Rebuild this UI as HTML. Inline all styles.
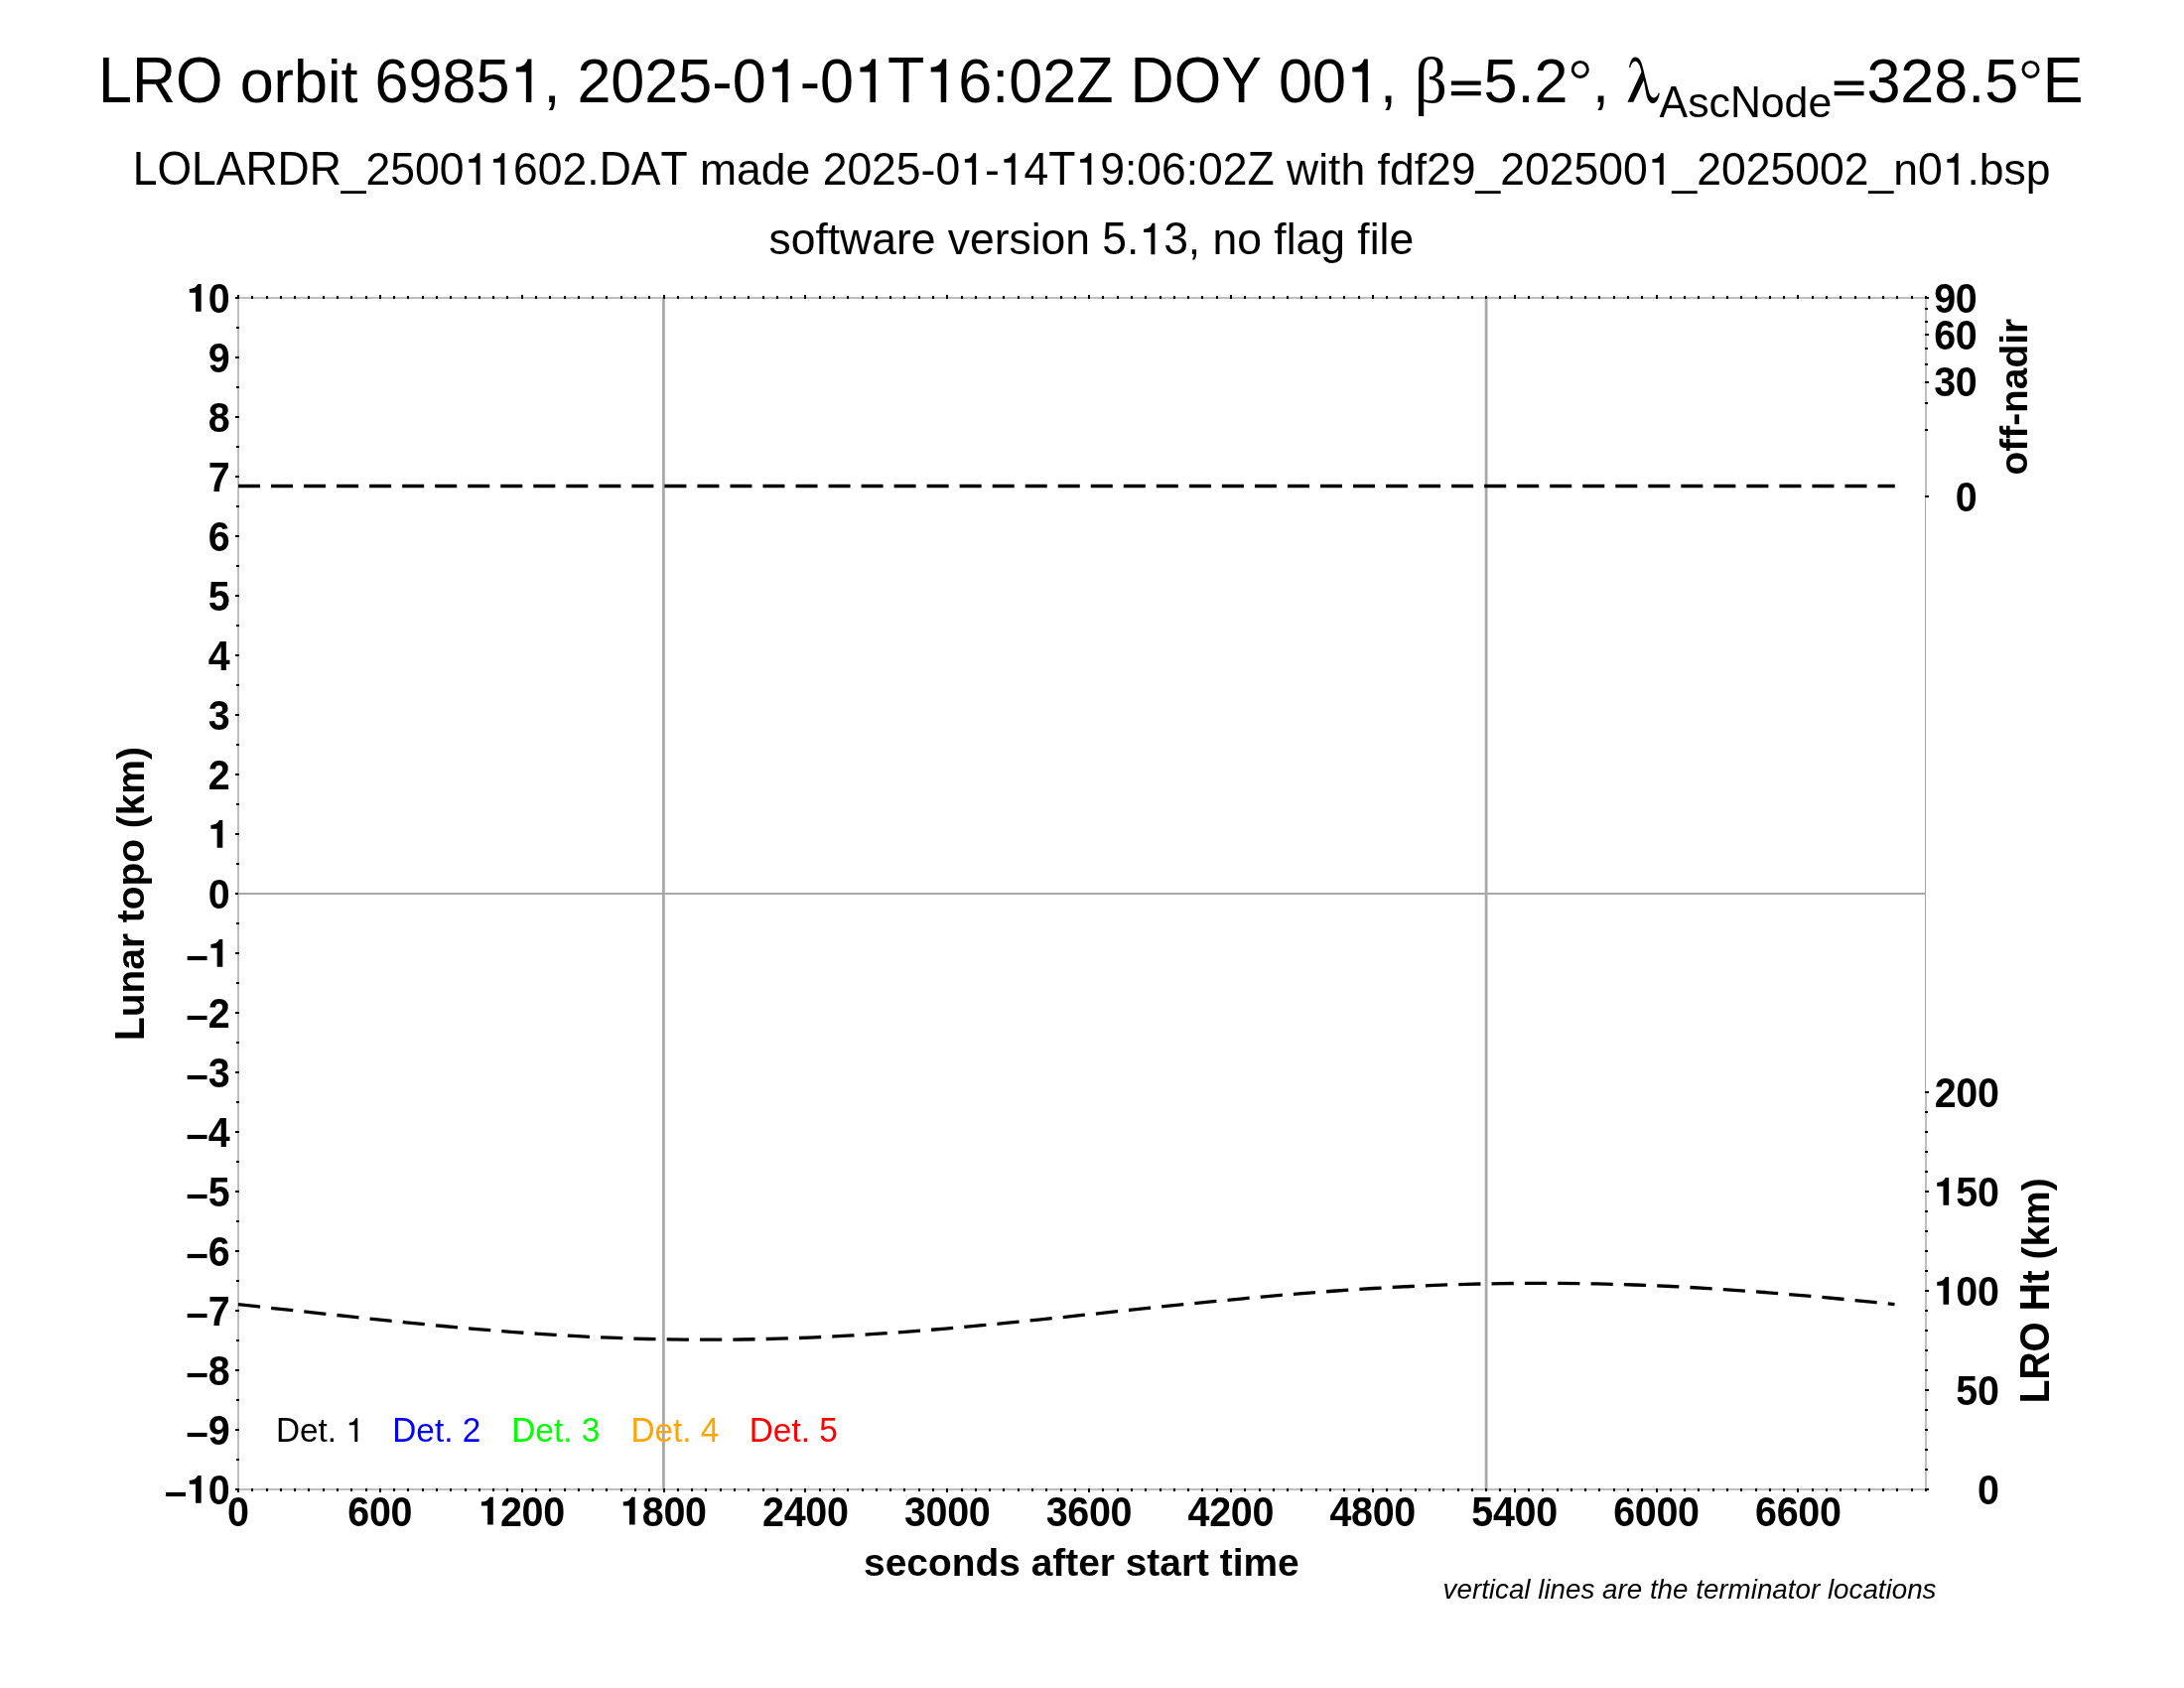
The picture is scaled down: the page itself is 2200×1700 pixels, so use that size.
<!DOCTYPE html>
<html><head><meta charset="utf-8"><title>LRO orbit 69851</title>
<style>html,body{margin:0;padding:0;background:#fff}svg{display:block;will-change:transform}text{font-family:"Liberation Sans",sans-serif;font-kerning:none}.b{font-weight:bold;font-size:38.89px}.g{font-family:"Liberation Serif",serif}</style>
</head><body>
<svg width="2200" height="1700" viewBox="0 0 2200 1700">
<defs>
<path id="o1" d="M.359 0H.269V-.5025H.105V-.577C.21-.581 .265-.618 .296-.712H.359Z"/>
<path id="b1" d="M.3685 0H.2234V-.489H.0625V-.588C.167-.593 .239-.629 .28-.715H.3685Z"/>
<path id="e1" d="M.049-.113H.5367V-.183H.049ZM.049-.283H.5367V-.353H.049Z"/>
<circle id="d1" cx=".2" cy="-.5425" r=".124" fill="none" stroke="#000" stroke-width=".048"/>
</defs>
<rect width="2200" height="1700" fill="#fff"/>
<g font-size="61.11">
<g transform="translate(99.00,103.10)"><text transform="translate(0.00,0) scale(1,1.05)">LRO</text><text transform="translate(142.63,0)">orbit</text><text transform="translate(278.49,0) scale(1,1.03)">6985</text><use href="#o1" transform="translate(414.43,0) scale(61.11)"/><text transform="translate(448.42,0)">,</text><text transform="translate(482.38,0) scale(1,1.03)">2025</text><text transform="translate(618.32,0)">-</text><text transform="translate(638.67,0) scale(1,1.03)">0</text><use href="#o1" transform="translate(672.66,0) scale(61.11)"/><text transform="translate(706.64,0)">-</text><text transform="translate(726.99,0) scale(1,1.03)">0</text><use href="#o1" transform="translate(760.98,0) scale(61.11)"/><text transform="translate(794.97,0) scale(1,1.05)">T</text><use href="#o1" transform="translate(832.30,0) scale(61.11)"/><text transform="translate(866.28,0) scale(1,1.03)">6</text><text transform="translate(900.27,0)">:</text><text transform="translate(917.25,0) scale(1,1.03)">02</text><text transform="translate(985.22,0) scale(1,1.05)">Z DOY</text><text transform="translate(1188.93,0) scale(1,1.03)">00</text><use href="#o1" transform="translate(1256.90,0) scale(61.11)"/><text transform="translate(1290.89,0)">,</text></g>
<text transform="translate(1424.80,103.10)" class="g" font-size="65">β</text>
<g transform="translate(1458.90,103.10)"><use href="#e1" transform="translate(0.00,0) scale(61.11)"/><text transform="translate(35.69,0) scale(1,1.03)">5</text><text transform="translate(69.67,0)">.</text><text transform="translate(86.65,0) scale(1,1.03)">2</text><use href="#d1" transform="translate(120.64,0) scale(61.11)"/><text transform="translate(145.08,0)">,</text></g>
<path transform="translate(1625,45) scale(0.047393)" d="M340 485C345 440 355 400 375 350C400 290 430 265 470 265C530 265 575 310 605 400C630 470 650 560 670 650L740 930C765 1040 800 1130 865 1130C910 1130 945 1090 965 1020L985 1035C970 1130 930 1245 845 1245C770 1245 730 1170 705 1060L650 760L430 1220L305 1220L600 580C585 500 565 440 535 400C515 370 495 355 470 355C420 355 385 410 365 485Z"/>
<g transform="translate(1671.60,117.80)" font-size="42.78"><text transform="translate(0.00,0) scale(1,1.05)">A</text><text transform="translate(28.53,0)">sc</text><text transform="translate(71.31,0) scale(1,1.05)">N</text><text transform="translate(102.21,0)">ode</text></g>
<g transform="translate(1844.70,103.10)"><use href="#e1" transform="translate(0.00,0) scale(61.11)"/><text transform="translate(35.69,0) scale(1,1.03)">328</text><text transform="translate(137.65,0)">.</text><text transform="translate(154.63,0) scale(1,1.03)">5</text><use href="#d1" transform="translate(188.61,0) scale(61.11)"/><text transform="translate(213.05,0) scale(1,1.05)">E</text></g>
</g>
<g font-size="44.49">
<g transform="translate(133.70,186.00)"><text transform="translate(0.00,0) scale(1,1.068)">LOLARDR</text><text transform="translate(210.15,0)">_</text><text transform="translate(234.90,0) scale(1,1.04)">2500</text><use href="#o1" transform="translate(333.87,0) scale(44.49)"/><use href="#o1" transform="translate(358.61,0) scale(44.49)"/><text transform="translate(383.36,0) scale(1,1.04)">602</text><text transform="translate(457.59,0)">.</text><text transform="translate(469.95,0) scale(1,1.068)">DAT</text><text transform="translate(571.29,0)">made</text><text transform="translate(694.94,0) scale(1,1.04)">2025</text><text transform="translate(793.91,0)">-</text><text transform="translate(808.73,0) scale(1,1.04)">0</text><use href="#o1" transform="translate(833.47,0) scale(44.49)"/><text transform="translate(858.21,0)">-</text><use href="#o1" transform="translate(873.03,0) scale(44.49)"/><text transform="translate(897.77,0) scale(1,1.04)">4</text><text transform="translate(922.52,0) scale(1,1.068)">T</text><use href="#o1" transform="translate(949.69,0) scale(44.49)"/><text transform="translate(974.44,0) scale(1,1.04)">9</text><text transform="translate(999.18,0)">:</text><text transform="translate(1011.54,0) scale(1,1.04)">06</text><text transform="translate(1061.03,0)">:</text><text transform="translate(1073.39,0) scale(1,1.04)">02</text><text transform="translate(1122.87,0) scale(1,1.068)">Z</text><text transform="translate(1162.41,0)">with fdf</text><text transform="translate(1303.35,0) scale(1,1.04)">29</text><text transform="translate(1352.84,0)">_</text><text transform="translate(1377.58,0) scale(1,1.04)">202500</text><use href="#o1" transform="translate(1526.04,0) scale(44.49)"/><text transform="translate(1550.78,0)">_</text><text transform="translate(1575.53,0) scale(1,1.04)">2025002</text><text transform="translate(1748.73,0)">_n</text><text transform="translate(1798.22,0) scale(1,1.04)">0</text><use href="#o1" transform="translate(1822.96,0) scale(44.49)"/><text transform="translate(1847.70,0)">.bsp</text></g>
</g>
<g font-size="44.44">
<g transform="translate(1099.30,256.30)"><text transform="translate(-324.84,0)">software version</text><text transform="translate(11.07,0) scale(1,1.04)">5</text><text transform="translate(35.78,0)">.</text><use href="#o1" transform="translate(48.13,0) scale(44.44)"/><text transform="translate(72.84,0) scale(1,1.04)">3</text><text transform="translate(97.56,0)">, no flag file</text></g>
</g>
<g shape-rendering="crispEdges" fill="#bebebe">
<rect x="1939" y="500" width="1" height="600" fill="#a9a9a9"/>
<rect x="239" y="299" width="1702" height="2"/>
<rect x="239" y="1499" width="1702" height="2"/>
<rect x="239" y="299" width="2" height="1202"/>
<rect x="1939" y="299" width="2" height="202"/>
<rect x="1939" y="1099" width="2" height="402"/>
</g>
<g stroke="#a9a9a9" stroke-width="2.78">
<path d="M668.4 300V1500M1497.1 300V1500"/>
</g>
<g shape-rendering="crispEdges" fill="#000">
<rect x="239" y="297" width="2" height="4"/>
<rect x="239" y="1499" width="2" height="4"/>
<rect x="253" y="298" width="2" height="3"/>
<rect x="253" y="1499" width="2" height="3"/>
<rect x="268" y="298" width="2" height="3"/>
<rect x="268" y="1499" width="2" height="3"/>
<rect x="282" y="298" width="2" height="3"/>
<rect x="282" y="1499" width="2" height="3"/>
<rect x="296" y="298" width="2" height="3"/>
<rect x="296" y="1499" width="2" height="3"/>
<rect x="310" y="298" width="2" height="3"/>
<rect x="310" y="1499" width="2" height="3"/>
<rect x="325" y="298" width="2" height="3"/>
<rect x="325" y="1499" width="2" height="3"/>
<rect x="339" y="298" width="2" height="3"/>
<rect x="339" y="1499" width="2" height="3"/>
<rect x="353" y="298" width="2" height="3"/>
<rect x="353" y="1499" width="2" height="3"/>
<rect x="368" y="298" width="2" height="3"/>
<rect x="368" y="1499" width="2" height="3"/>
<rect x="382" y="297" width="2" height="4"/>
<rect x="382" y="1499" width="2" height="4"/>
<rect x="396" y="298" width="2" height="3"/>
<rect x="396" y="1499" width="2" height="3"/>
<rect x="410" y="298" width="2" height="3"/>
<rect x="410" y="1499" width="2" height="3"/>
<rect x="425" y="298" width="2" height="3"/>
<rect x="425" y="1499" width="2" height="3"/>
<rect x="439" y="298" width="2" height="3"/>
<rect x="439" y="1499" width="2" height="3"/>
<rect x="453" y="298" width="2" height="3"/>
<rect x="453" y="1499" width="2" height="3"/>
<rect x="468" y="298" width="2" height="3"/>
<rect x="468" y="1499" width="2" height="3"/>
<rect x="482" y="298" width="2" height="3"/>
<rect x="482" y="1499" width="2" height="3"/>
<rect x="496" y="298" width="2" height="3"/>
<rect x="496" y="1499" width="2" height="3"/>
<rect x="510" y="298" width="2" height="3"/>
<rect x="510" y="1499" width="2" height="3"/>
<rect x="525" y="297" width="2" height="4"/>
<rect x="525" y="1499" width="2" height="4"/>
<rect x="539" y="298" width="2" height="3"/>
<rect x="539" y="1499" width="2" height="3"/>
<rect x="553" y="298" width="2" height="3"/>
<rect x="553" y="1499" width="2" height="3"/>
<rect x="568" y="298" width="2" height="3"/>
<rect x="568" y="1499" width="2" height="3"/>
<rect x="582" y="298" width="2" height="3"/>
<rect x="582" y="1499" width="2" height="3"/>
<rect x="596" y="298" width="2" height="3"/>
<rect x="596" y="1499" width="2" height="3"/>
<rect x="610" y="298" width="2" height="3"/>
<rect x="610" y="1499" width="2" height="3"/>
<rect x="625" y="298" width="2" height="3"/>
<rect x="625" y="1499" width="2" height="3"/>
<rect x="639" y="298" width="2" height="3"/>
<rect x="639" y="1499" width="2" height="3"/>
<rect x="653" y="298" width="2" height="3"/>
<rect x="653" y="1499" width="2" height="3"/>
<rect x="668" y="297" width="2" height="4"/>
<rect x="668" y="1499" width="2" height="4"/>
<rect x="682" y="298" width="2" height="3"/>
<rect x="682" y="1499" width="2" height="3"/>
<rect x="696" y="298" width="2" height="3"/>
<rect x="696" y="1499" width="2" height="3"/>
<rect x="710" y="298" width="2" height="3"/>
<rect x="710" y="1499" width="2" height="3"/>
<rect x="725" y="298" width="2" height="3"/>
<rect x="725" y="1499" width="2" height="3"/>
<rect x="739" y="298" width="2" height="3"/>
<rect x="739" y="1499" width="2" height="3"/>
<rect x="753" y="298" width="2" height="3"/>
<rect x="753" y="1499" width="2" height="3"/>
<rect x="768" y="298" width="2" height="3"/>
<rect x="768" y="1499" width="2" height="3"/>
<rect x="782" y="298" width="2" height="3"/>
<rect x="782" y="1499" width="2" height="3"/>
<rect x="796" y="298" width="2" height="3"/>
<rect x="796" y="1499" width="2" height="3"/>
<rect x="810" y="297" width="2" height="4"/>
<rect x="810" y="1499" width="2" height="4"/>
<rect x="825" y="298" width="2" height="3"/>
<rect x="825" y="1499" width="2" height="3"/>
<rect x="839" y="298" width="2" height="3"/>
<rect x="839" y="1499" width="2" height="3"/>
<rect x="853" y="298" width="2" height="3"/>
<rect x="853" y="1499" width="2" height="3"/>
<rect x="868" y="298" width="2" height="3"/>
<rect x="868" y="1499" width="2" height="3"/>
<rect x="882" y="298" width="2" height="3"/>
<rect x="882" y="1499" width="2" height="3"/>
<rect x="896" y="298" width="2" height="3"/>
<rect x="896" y="1499" width="2" height="3"/>
<rect x="910" y="298" width="2" height="3"/>
<rect x="910" y="1499" width="2" height="3"/>
<rect x="925" y="298" width="2" height="3"/>
<rect x="925" y="1499" width="2" height="3"/>
<rect x="939" y="298" width="2" height="3"/>
<rect x="939" y="1499" width="2" height="3"/>
<rect x="953" y="297" width="2" height="4"/>
<rect x="953" y="1499" width="2" height="4"/>
<rect x="968" y="298" width="2" height="3"/>
<rect x="968" y="1499" width="2" height="3"/>
<rect x="982" y="298" width="2" height="3"/>
<rect x="982" y="1499" width="2" height="3"/>
<rect x="996" y="298" width="2" height="3"/>
<rect x="996" y="1499" width="2" height="3"/>
<rect x="1010" y="298" width="2" height="3"/>
<rect x="1010" y="1499" width="2" height="3"/>
<rect x="1025" y="298" width="2" height="3"/>
<rect x="1025" y="1499" width="2" height="3"/>
<rect x="1039" y="298" width="2" height="3"/>
<rect x="1039" y="1499" width="2" height="3"/>
<rect x="1053" y="298" width="2" height="3"/>
<rect x="1053" y="1499" width="2" height="3"/>
<rect x="1068" y="298" width="2" height="3"/>
<rect x="1068" y="1499" width="2" height="3"/>
<rect x="1082" y="298" width="2" height="3"/>
<rect x="1082" y="1499" width="2" height="3"/>
<rect x="1096" y="297" width="2" height="4"/>
<rect x="1096" y="1499" width="2" height="4"/>
<rect x="1110" y="298" width="2" height="3"/>
<rect x="1110" y="1499" width="2" height="3"/>
<rect x="1125" y="298" width="2" height="3"/>
<rect x="1125" y="1499" width="2" height="3"/>
<rect x="1139" y="298" width="2" height="3"/>
<rect x="1139" y="1499" width="2" height="3"/>
<rect x="1153" y="298" width="2" height="3"/>
<rect x="1153" y="1499" width="2" height="3"/>
<rect x="1168" y="298" width="2" height="3"/>
<rect x="1168" y="1499" width="2" height="3"/>
<rect x="1182" y="298" width="2" height="3"/>
<rect x="1182" y="1499" width="2" height="3"/>
<rect x="1196" y="298" width="2" height="3"/>
<rect x="1196" y="1499" width="2" height="3"/>
<rect x="1210" y="298" width="2" height="3"/>
<rect x="1210" y="1499" width="2" height="3"/>
<rect x="1225" y="298" width="2" height="3"/>
<rect x="1225" y="1499" width="2" height="3"/>
<rect x="1239" y="297" width="2" height="4"/>
<rect x="1239" y="1499" width="2" height="4"/>
<rect x="1253" y="298" width="2" height="3"/>
<rect x="1253" y="1499" width="2" height="3"/>
<rect x="1268" y="298" width="2" height="3"/>
<rect x="1268" y="1499" width="2" height="3"/>
<rect x="1282" y="298" width="2" height="3"/>
<rect x="1282" y="1499" width="2" height="3"/>
<rect x="1296" y="298" width="2" height="3"/>
<rect x="1296" y="1499" width="2" height="3"/>
<rect x="1310" y="298" width="2" height="3"/>
<rect x="1310" y="1499" width="2" height="3"/>
<rect x="1325" y="298" width="2" height="3"/>
<rect x="1325" y="1499" width="2" height="3"/>
<rect x="1339" y="298" width="2" height="3"/>
<rect x="1339" y="1499" width="2" height="3"/>
<rect x="1353" y="298" width="2" height="3"/>
<rect x="1353" y="1499" width="2" height="3"/>
<rect x="1368" y="298" width="2" height="3"/>
<rect x="1368" y="1499" width="2" height="3"/>
<rect x="1382" y="297" width="2" height="4"/>
<rect x="1382" y="1499" width="2" height="4"/>
<rect x="1396" y="298" width="2" height="3"/>
<rect x="1396" y="1499" width="2" height="3"/>
<rect x="1410" y="298" width="2" height="3"/>
<rect x="1410" y="1499" width="2" height="3"/>
<rect x="1425" y="298" width="2" height="3"/>
<rect x="1425" y="1499" width="2" height="3"/>
<rect x="1439" y="298" width="2" height="3"/>
<rect x="1439" y="1499" width="2" height="3"/>
<rect x="1453" y="298" width="2" height="3"/>
<rect x="1453" y="1499" width="2" height="3"/>
<rect x="1468" y="298" width="2" height="3"/>
<rect x="1468" y="1499" width="2" height="3"/>
<rect x="1482" y="298" width="2" height="3"/>
<rect x="1482" y="1499" width="2" height="3"/>
<rect x="1496" y="298" width="2" height="3"/>
<rect x="1496" y="1499" width="2" height="3"/>
<rect x="1510" y="298" width="2" height="3"/>
<rect x="1510" y="1499" width="2" height="3"/>
<rect x="1525" y="297" width="2" height="4"/>
<rect x="1525" y="1499" width="2" height="4"/>
<rect x="1539" y="298" width="2" height="3"/>
<rect x="1539" y="1499" width="2" height="3"/>
<rect x="1553" y="298" width="2" height="3"/>
<rect x="1553" y="1499" width="2" height="3"/>
<rect x="1568" y="298" width="2" height="3"/>
<rect x="1568" y="1499" width="2" height="3"/>
<rect x="1582" y="298" width="2" height="3"/>
<rect x="1582" y="1499" width="2" height="3"/>
<rect x="1596" y="298" width="2" height="3"/>
<rect x="1596" y="1499" width="2" height="3"/>
<rect x="1610" y="298" width="2" height="3"/>
<rect x="1610" y="1499" width="2" height="3"/>
<rect x="1625" y="298" width="2" height="3"/>
<rect x="1625" y="1499" width="2" height="3"/>
<rect x="1639" y="298" width="2" height="3"/>
<rect x="1639" y="1499" width="2" height="3"/>
<rect x="1653" y="298" width="2" height="3"/>
<rect x="1653" y="1499" width="2" height="3"/>
<rect x="1668" y="297" width="2" height="4"/>
<rect x="1668" y="1499" width="2" height="4"/>
<rect x="1682" y="298" width="2" height="3"/>
<rect x="1682" y="1499" width="2" height="3"/>
<rect x="1696" y="298" width="2" height="3"/>
<rect x="1696" y="1499" width="2" height="3"/>
<rect x="1710" y="298" width="2" height="3"/>
<rect x="1710" y="1499" width="2" height="3"/>
<rect x="1725" y="298" width="2" height="3"/>
<rect x="1725" y="1499" width="2" height="3"/>
<rect x="1739" y="298" width="2" height="3"/>
<rect x="1739" y="1499" width="2" height="3"/>
<rect x="1753" y="298" width="2" height="3"/>
<rect x="1753" y="1499" width="2" height="3"/>
<rect x="1768" y="298" width="2" height="3"/>
<rect x="1768" y="1499" width="2" height="3"/>
<rect x="1782" y="298" width="2" height="3"/>
<rect x="1782" y="1499" width="2" height="3"/>
<rect x="1796" y="298" width="2" height="3"/>
<rect x="1796" y="1499" width="2" height="3"/>
<rect x="1810" y="297" width="2" height="4"/>
<rect x="1810" y="1499" width="2" height="4"/>
<rect x="1825" y="298" width="2" height="3"/>
<rect x="1825" y="1499" width="2" height="3"/>
<rect x="1839" y="298" width="2" height="3"/>
<rect x="1839" y="1499" width="2" height="3"/>
<rect x="1853" y="298" width="2" height="3"/>
<rect x="1853" y="1499" width="2" height="3"/>
<rect x="1868" y="298" width="2" height="3"/>
<rect x="1868" y="1499" width="2" height="3"/>
<rect x="1882" y="298" width="2" height="3"/>
<rect x="1882" y="1499" width="2" height="3"/>
<rect x="1896" y="298" width="2" height="3"/>
<rect x="1896" y="1499" width="2" height="3"/>
<rect x="1910" y="298" width="2" height="3"/>
<rect x="1910" y="1499" width="2" height="3"/>
<rect x="1925" y="298" width="2" height="3"/>
<rect x="1925" y="1499" width="2" height="3"/>
<rect x="1939" y="298" width="2" height="3"/>
<rect x="1939" y="1499" width="2" height="3"/>
<rect x="237" y="299" width="4" height="2"/>
<rect x="238" y="329" width="3" height="2"/>
<rect x="237" y="359" width="4" height="2"/>
<rect x="238" y="389" width="3" height="2"/>
<rect x="237" y="419" width="4" height="2"/>
<rect x="238" y="449" width="3" height="2"/>
<rect x="237" y="479" width="4" height="2"/>
<rect x="238" y="509" width="3" height="2"/>
<rect x="237" y="539" width="4" height="2"/>
<rect x="238" y="569" width="3" height="2"/>
<rect x="237" y="599" width="4" height="2"/>
<rect x="238" y="629" width="3" height="2"/>
<rect x="237" y="659" width="4" height="2"/>
<rect x="238" y="689" width="3" height="2"/>
<rect x="237" y="719" width="4" height="2"/>
<rect x="238" y="749" width="3" height="2"/>
<rect x="237" y="779" width="4" height="2"/>
<rect x="238" y="809" width="3" height="2"/>
<rect x="237" y="839" width="4" height="2"/>
<rect x="238" y="869" width="3" height="2"/>
<rect x="237" y="899" width="4" height="2"/>
<rect x="238" y="929" width="3" height="2"/>
<rect x="237" y="959" width="4" height="2"/>
<rect x="238" y="989" width="3" height="2"/>
<rect x="237" y="1019" width="4" height="2"/>
<rect x="238" y="1049" width="3" height="2"/>
<rect x="237" y="1079" width="4" height="2"/>
<rect x="238" y="1109" width="3" height="2"/>
<rect x="237" y="1139" width="4" height="2"/>
<rect x="238" y="1169" width="3" height="2"/>
<rect x="237" y="1199" width="4" height="2"/>
<rect x="238" y="1229" width="3" height="2"/>
<rect x="237" y="1259" width="4" height="2"/>
<rect x="238" y="1289" width="3" height="2"/>
<rect x="237" y="1319" width="4" height="2"/>
<rect x="238" y="1349" width="3" height="2"/>
<rect x="237" y="1379" width="4" height="2"/>
<rect x="238" y="1409" width="3" height="2"/>
<rect x="237" y="1439" width="4" height="2"/>
<rect x="238" y="1469" width="3" height="2"/>
<rect x="237" y="1499" width="4" height="2"/>
<rect x="1939" y="499" width="4" height="2"/>
<rect x="1939" y="432" width="3" height="2"/>
<rect x="1939" y="405" width="3" height="2"/>
<rect x="1939" y="384" width="4" height="2"/>
<rect x="1939" y="366" width="3" height="2"/>
<rect x="1939" y="350" width="3" height="2"/>
<rect x="1939" y="336" width="4" height="2"/>
<rect x="1939" y="323" width="3" height="2"/>
<rect x="1939" y="310" width="3" height="2"/>
<rect x="1939" y="299" width="4" height="2"/>
<rect x="1939" y="1499" width="4" height="2"/>
<rect x="1939" y="1479" width="3" height="2"/>
<rect x="1939" y="1459" width="3" height="2"/>
<rect x="1939" y="1439" width="3" height="2"/>
<rect x="1939" y="1419" width="3" height="2"/>
<rect x="1939" y="1399" width="4" height="2"/>
<rect x="1939" y="1379" width="3" height="2"/>
<rect x="1939" y="1359" width="3" height="2"/>
<rect x="1939" y="1339" width="3" height="2"/>
<rect x="1939" y="1319" width="3" height="2"/>
<rect x="1939" y="1299" width="4" height="2"/>
<rect x="1939" y="1279" width="3" height="2"/>
<rect x="1939" y="1259" width="3" height="2"/>
<rect x="1939" y="1239" width="3" height="2"/>
<rect x="1939" y="1219" width="3" height="2"/>
<rect x="1939" y="1199" width="4" height="2"/>
<rect x="1939" y="1179" width="3" height="2"/>
<rect x="1939" y="1159" width="3" height="2"/>
<rect x="1939" y="1139" width="3" height="2"/>
<rect x="1939" y="1119" width="3" height="2"/>
<rect x="1939" y="1099" width="4" height="2"/>
<rect x="240" y="899" width="1700" height="2" fill="#a9a9a9"/>
</g>
<g class="b">
<use href="#b1" transform="translate(188.34,313.86) scale(38.89)"/><text transform="translate(209.82,314.88) scale(1.015,1.085)">0</text>
<text transform="translate(209.82,374.88) scale(1.015,1.085)">9</text>
<text transform="translate(209.82,434.88) scale(1.015,1.085)">8</text>
<text transform="translate(209.82,494.88) scale(1.015,1.085)">7</text>
<text transform="translate(209.82,554.88) scale(1.015,1.085)">6</text>
<text transform="translate(209.82,614.88) scale(1.015,1.085)">5</text>
<text transform="translate(209.82,674.88) scale(1.015,1.085)">4</text>
<text transform="translate(209.82,734.88) scale(1.015,1.085)">3</text>
<text transform="translate(209.82,794.88) scale(1.015,1.085)">2</text>
<use href="#b1" transform="translate(209.97,853.86) scale(38.89)"/>
<text transform="translate(209.82,914.88) scale(1.015,1.085)">0</text>
<rect x="188.66" y="962.90" width="19.91" height="4.2"/><use href="#b1" transform="translate(209.97,973.86) scale(38.89)"/>
<rect x="188.66" y="1022.90" width="19.91" height="4.2"/><text transform="translate(209.82,1034.88) scale(1.015,1.085)">2</text>
<rect x="188.66" y="1082.90" width="19.91" height="4.2"/><text transform="translate(209.82,1094.88) scale(1.015,1.085)">3</text>
<rect x="188.66" y="1142.90" width="19.91" height="4.2"/><text transform="translate(209.82,1154.88) scale(1.015,1.085)">4</text>
<rect x="188.66" y="1202.90" width="19.91" height="4.2"/><text transform="translate(209.82,1214.88) scale(1.015,1.085)">5</text>
<rect x="188.66" y="1262.90" width="19.91" height="4.2"/><text transform="translate(209.82,1274.88) scale(1.015,1.085)">6</text>
<rect x="188.66" y="1322.90" width="19.91" height="4.2"/><text transform="translate(209.82,1334.88) scale(1.015,1.085)">7</text>
<rect x="188.66" y="1382.90" width="19.91" height="4.2"/><text transform="translate(209.82,1394.88) scale(1.015,1.085)">8</text>
<rect x="188.66" y="1442.90" width="19.91" height="4.2"/><text transform="translate(209.82,1454.88) scale(1.015,1.085)">9</text>
<rect x="167.03" y="1502.90" width="19.91" height="4.2"/><use href="#b1" transform="translate(188.34,1513.86) scale(38.89)"/><text transform="translate(209.82,1514.88) scale(1.015,1.085)">0</text>
<text transform="translate(1969.82,514.88) scale(1.015,1.085)">0</text>
<text transform="translate(1948.19,399.41) scale(1.015,1.085)">3</text><text transform="translate(1969.82,399.41) scale(1.015,1.085)">0</text>
<text transform="translate(1948.19,351.58) scale(1.015,1.085)">6</text><text transform="translate(1969.82,351.58) scale(1.015,1.085)">0</text>
<text transform="translate(1948.19,314.88) scale(1.015,1.085)">9</text><text transform="translate(1969.82,314.88) scale(1.015,1.085)">0</text>
<text transform="translate(1991.92,1514.88) scale(1.015,1.085)">0</text>
<text transform="translate(1970.29,1414.88) scale(1.015,1.085)">5</text><text transform="translate(1991.92,1414.88) scale(1.015,1.085)">0</text>
<use href="#b1" transform="translate(1948.81,1313.86) scale(38.89)"/><text transform="translate(1970.29,1314.88) scale(1.015,1.085)">0</text><text transform="translate(1991.92,1314.88) scale(1.015,1.085)">0</text>
<use href="#b1" transform="translate(1948.81,1213.86) scale(38.89)"/><text transform="translate(1970.29,1214.88) scale(1.015,1.085)">5</text><text transform="translate(1991.92,1214.88) scale(1.015,1.085)">0</text>
<text transform="translate(1948.66,1114.88) scale(1.015,1.085)">2</text><text transform="translate(1970.29,1114.88) scale(1.015,1.085)">0</text><text transform="translate(1991.92,1114.88) scale(1.015,1.085)">0</text>
<text transform="translate(229.04,1536.50) scale(1.015,1.085)">0</text>
<text transform="translate(350.26,1536.50) scale(1.015,1.085)">6</text><text transform="translate(371.89,1536.50) scale(1.015,1.085)">0</text><text transform="translate(393.52,1536.50) scale(1.015,1.085)">0</text>
<use href="#b1" transform="translate(482.46,1535.48) scale(38.89)"/><text transform="translate(503.94,1536.50) scale(1.015,1.085)">2</text><text transform="translate(525.56,1536.50) scale(1.015,1.085)">0</text><text transform="translate(547.19,1536.50) scale(1.015,1.085)">0</text>
<use href="#b1" transform="translate(625.31,1535.48) scale(38.89)"/><text transform="translate(646.79,1536.50) scale(1.015,1.085)">8</text><text transform="translate(668.42,1536.50) scale(1.015,1.085)">0</text><text transform="translate(690.05,1536.50) scale(1.015,1.085)">0</text>
<text transform="translate(768.02,1536.50) scale(1.015,1.085)">2</text><text transform="translate(789.65,1536.50) scale(1.015,1.085)">4</text><text transform="translate(811.28,1536.50) scale(1.015,1.085)">0</text><text transform="translate(832.91,1536.50) scale(1.015,1.085)">0</text>
<text transform="translate(910.88,1536.50) scale(1.015,1.085)">3</text><text transform="translate(932.51,1536.50) scale(1.015,1.085)">0</text><text transform="translate(954.14,1536.50) scale(1.015,1.085)">0</text><text transform="translate(975.76,1536.50) scale(1.015,1.085)">0</text>
<text transform="translate(1053.74,1536.50) scale(1.015,1.085)">3</text><text transform="translate(1075.36,1536.50) scale(1.015,1.085)">6</text><text transform="translate(1096.99,1536.50) scale(1.015,1.085)">0</text><text transform="translate(1118.62,1536.50) scale(1.015,1.085)">0</text>
<text transform="translate(1196.59,1536.50) scale(1.015,1.085)">4</text><text transform="translate(1218.22,1536.50) scale(1.015,1.085)">2</text><text transform="translate(1239.85,1536.50) scale(1.015,1.085)">0</text><text transform="translate(1261.48,1536.50) scale(1.015,1.085)">0</text>
<text transform="translate(1339.45,1536.50) scale(1.015,1.085)">4</text><text transform="translate(1361.08,1536.50) scale(1.015,1.085)">8</text><text transform="translate(1382.71,1536.50) scale(1.015,1.085)">0</text><text transform="translate(1404.34,1536.50) scale(1.015,1.085)">0</text>
<text transform="translate(1482.31,1536.50) scale(1.015,1.085)">5</text><text transform="translate(1503.94,1536.50) scale(1.015,1.085)">4</text><text transform="translate(1525.56,1536.50) scale(1.015,1.085)">0</text><text transform="translate(1547.19,1536.50) scale(1.015,1.085)">0</text>
<text transform="translate(1625.16,1536.50) scale(1.015,1.085)">6</text><text transform="translate(1646.79,1536.50) scale(1.015,1.085)">0</text><text transform="translate(1668.42,1536.50) scale(1.015,1.085)">0</text><text transform="translate(1690.05,1536.50) scale(1.015,1.085)">0</text>
<text transform="translate(1768.02,1536.50) scale(1.015,1.085)">6</text><text transform="translate(1789.65,1536.50) scale(1.015,1.085)">6</text><text transform="translate(1811.28,1536.50) scale(1.015,1.085)">0</text><text transform="translate(1832.91,1536.50) scale(1.015,1.085)">0</text>
</g>
<g class="b">
<text transform="translate(1089.40,1586.90)" text-anchor="middle">seconds after start time</text>
<g transform="translate(145.00,900.00) rotate(-90)"><text transform="translate(-147.98,0) scale(1,1.085)">L</text><text transform="translate(-124.23,0)">unar topo (km)</text></g>
<text transform="translate(2041.90,399.70) rotate(-90)" text-anchor="middle">off-nadir</text>
<g transform="translate(2064.30,1299.80) rotate(-90)"><text transform="translate(-113.42,0) scale(1,1.085)">LRO H</text><text transform="translate(7.56,0)">t (km)</text></g>
</g>
<g font-size="33.33">
<g transform="translate(277.90,1452.10)" style="fill:#000"><text transform="translate(0.00,0) scale(1,1.05)">D</text><text transform="translate(24.07,0)">et.</text><use href="#o1" transform="translate(70.39,0) scale(33.33)"/></g>
<g transform="translate(395.30,1452.10)" style="fill:#0000ff"><text transform="translate(0.00,0) scale(1,1.05)">D</text><text transform="translate(24.07,0)">et.</text><text transform="translate(70.39,0) scale(1,1.03)">2</text></g>
<g transform="translate(515.30,1452.10)" style="fill:#00ff00"><text transform="translate(0.00,0) scale(1,1.05)">D</text><text transform="translate(24.07,0)">et.</text><text transform="translate(70.39,0) scale(1,1.03)">3</text></g>
<g transform="translate(635.40,1452.10)" style="fill:#ffa500"><text transform="translate(0.00,0) scale(1,1.05)">D</text><text transform="translate(24.07,0)">et.</text><text transform="translate(70.39,0) scale(1,1.03)">4</text></g>
<g transform="translate(754.80,1452.10)" style="fill:#ff0000"><text transform="translate(0.00,0) scale(1,1.05)">D</text><text transform="translate(24.07,0)">et.</text><text transform="translate(70.39,0) scale(1,1.03)">5</text></g>
</g>
<text x="1950.5" y="1610" text-anchor="end" font-size="27.78" font-style="italic">vertical lines are the terminator locations</text>
<g fill="none" stroke="#000" stroke-width="3.3">
<path d="M240 489.5H1908.8" stroke-dasharray="22.02 11.01"/>
<path d="M240.0 1313.7L258.7 1315.7L277.5 1317.8L296.2 1319.8L315.0 1321.9L333.7 1323.9L352.5 1325.9L371.2 1327.9L390.0 1329.9L408.7 1331.8L427.5 1333.7L446.2 1335.5L465.0 1337.2L483.7 1338.8L502.5 1340.4L521.2 1341.8L540.0 1343.1L558.7 1344.3L577.4 1345.4L596.2 1346.4L614.9 1347.2L633.7 1347.9L652.4 1348.5L671.2 1348.9L689.9 1349.1L708.7 1349.2L727.4 1349.2L746.2 1349.0L764.9 1348.7L783.7 1348.2L802.4 1347.6L821.2 1346.8L839.9 1345.9L858.7 1344.9L877.4 1343.7L896.2 1342.5L914.9 1341.1L933.6 1339.6L952.4 1338.1L971.1 1336.4L989.9 1334.7L1008.6 1332.9L1027.4 1331.0L1046.1 1329.1L1064.9 1327.2L1083.6 1325.2L1102.4 1323.2L1121.1 1321.2L1139.9 1319.2L1158.6 1317.2L1177.4 1315.2L1196.1 1313.3L1214.9 1311.4L1233.6 1309.6L1252.3 1307.8L1271.1 1306.1L1289.8 1304.4L1308.6 1302.8L1327.3 1301.4L1346.1 1300.0L1364.8 1298.7L1383.6 1297.5L1402.3 1296.4L1421.1 1295.5L1439.8 1294.6L1458.6 1293.9L1477.3 1293.3L1496.1 1292.9L1514.8 1292.6L1533.6 1292.4L1552.3 1292.3L1571.1 1292.4L1589.8 1292.6L1608.5 1292.9L1627.3 1293.4L1646.0 1294.0L1664.8 1294.7L1683.5 1295.5L1702.3 1296.5L1721.0 1297.6L1739.8 1298.8L1758.5 1300.1L1777.3 1301.5L1796.0 1303.0L1814.8 1304.6L1833.5 1306.3L1852.3 1308.0L1871.0 1309.8L1889.8 1311.7L1908.5 1313.6" stroke-dasharray="22.22 11.11"/>
</g>
</svg></body></html>
